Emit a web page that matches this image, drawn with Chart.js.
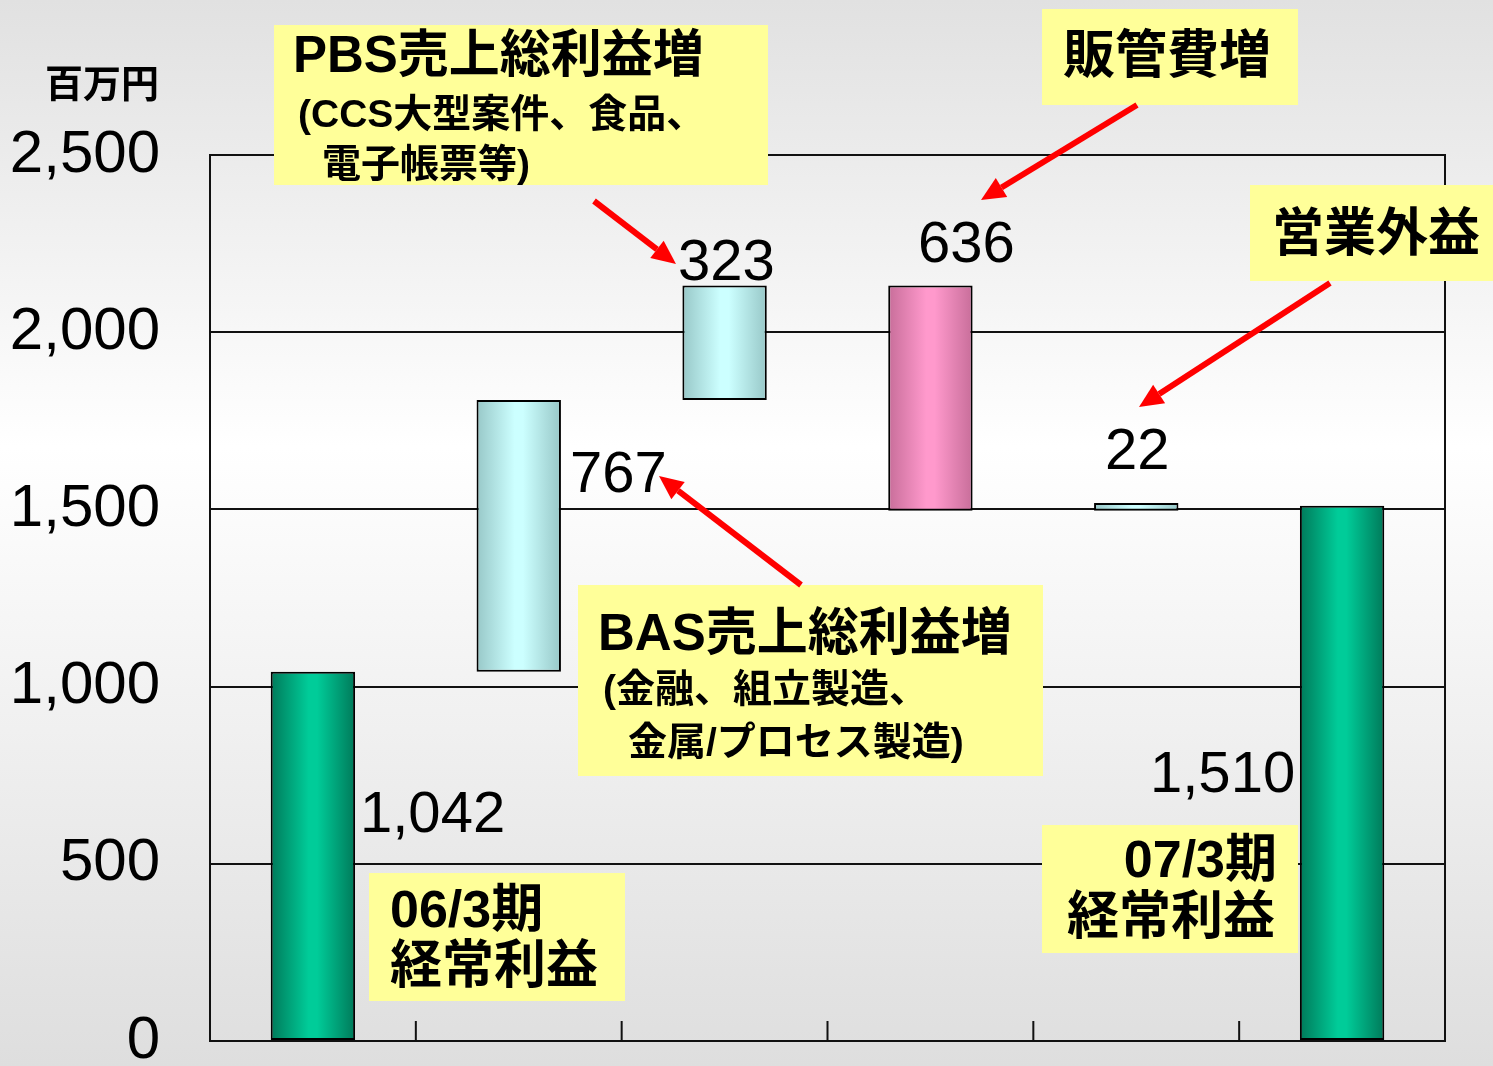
<!DOCTYPE html>
<html>
<head>
<meta charset="utf-8">
<script src="https://cdn.jsdelivr.net/npm/chart.js@4.4.1/dist/chart.umd.min.js"></script>
<style>
  html, body { margin: 0; padding: 0; background: #fff; }
  #wrap { width: 1493px; height: 1066px; }
</style>
</head>
<body>
<div id="wrap"><canvas id="c" width="1493" height="1066"></canvas></div>
<script>
// データ（百万円）
const categories = ['06/3期 経常利益', 'BAS売上総利益増', 'PBS売上総利益増', '販管費増', '営業外益', '07/3期 経常利益'];
const startValue = 1042;
const deltas = [767, 323, -636, 22];
const endValue = 1510;
const yTicks = [0, 500, 1000, 1500, 2000, 2500];

// 浮動バー [下端, 上端]
const bars = [[0, startValue]];
let run = startValue;
deltas.forEach(d => {
  const next = run + d;
  bars.push([Math.min(run, next), Math.max(run, next)]);
  run = next;
});
bars.push([0, endValue]);

const valueLabels = [startValue].concat(deltas.map(Math.abs), [endValue]).map(v => v.toLocaleString('en-US'));

// 色（端, 中央）
const palette = ['green', 'cyan', 'cyan', 'pink', 'cyan', 'green'];
const colors = {
  green: ['#007a5a', '#00cc99'],
  cyan:  ['#98c8c8', '#ccffff'],
  pink:  ['#c86e9a', '#ff99cc']
};

const JP = '"Liberation Sans", "Noto Sans CJK JP", sans-serif';

function barFill(ctx) {
  const chart = ctx.chart;
  const c = colors[palette[ctx.dataIndex]];
  if (!chart.chartArea || !chart.scales.x) return c[1];
  const x = chart.scales.x.getPixelForValue(ctx.dataIndex);
  const g = chart.ctx.createLinearGradient(x - 42, 0, x + 42, 0);
  g.addColorStop(0, c[0]);
  g.addColorStop(0.45, c[1]);
  g.addColorStop(0.55, c[1]);
  g.addColorStop(1, c[0]);
  return g;
}

// 注記（テキストボックス・矢印・数値）
const boxes = [
  { x: 274, y: 25, w: 494, h: 160, lines: [
    { t: 'PBS売上総利益増', x: 293, y: 58, size: 51 },
    { t: '(CCS大型案件、食品、', x: 298, y: 116, size: 39 },
    { t: '電子帳票等)', x: 322, y: 166, size: 39 } ] },
  { x: 1042, y: 9, w: 256, h: 96, lines: [
    { t: '販管費増', x: 1063, y: 59, size: 52 } ] },
  { x: 1250, y: 185, w: 243, h: 96, lines: [
    { t: '営業外益', x: 1272, y: 237, size: 52 } ] },
  { x: 578, y: 585, w: 465, h: 191, lines: [
    { t: 'BAS売上総利益増', x: 598, y: 636, size: 51 },
    { t: '(金融、組立製造、', x: 603, y: 691, size: 39 },
    { t: '金属/プロセス製造)', x: 628, y: 744, size: 39 } ] },
  { x: 369, y: 873, w: 256, h: 128, lines: [
    { t: '06/3期', x: 390, y: 913, size: 52 },
    { t: '経常利益', x: 390, y: 969, size: 52 } ] },
  { x: 1042, y: 825, w: 256, h: 128, lines: [
    { t: '07/3期', x: 1277, y: 863, size: 52, align: 'right' },
    { t: '経常利益', x: 1067, y: 920, size: 52 } ] }
];
const arrows = [
  [594, 201, 676, 264],
  [1137, 105, 981, 200],
  [1330, 283, 1139, 407],
  [801, 585, 659, 476]
];
const valuePos = [[360, 816], [570, 476], [678, 264], [918, 246], [1105, 453], [1150, 776]];

const decor = {
  id: 'decor',
  beforeDraw(chart) {
    const ctx = chart.ctx;
    const g = ctx.createLinearGradient(0, 0, 0, chart.height);
    g.addColorStop(0, '#e1e1e1');
    g.addColorStop(0.42, '#ffffff');
    g.addColorStop(1, '#dedede');
    ctx.save();
    ctx.fillStyle = g;
    ctx.fillRect(0, 0, chart.width, chart.height);
    ctx.restore();
  },
  afterDatasetsDraw(chart) {
    const ctx = chart.ctx;
    const a = chart.chartArea;
    const xs = chart.scales.x;
    ctx.save();
    ctx.strokeStyle = '#111';
    ctx.lineWidth = 2;
    ctx.beginPath();
    ctx.moveTo(a.left, a.top);
    ctx.lineTo(a.right, a.top);
    ctx.lineTo(a.right, a.bottom);
    for (let i = 0; i < categories.length - 1; i++) {
      const x = (xs.getPixelForValue(i) + xs.getPixelForValue(i + 1)) / 2;
      ctx.moveTo(x, a.bottom);
      ctx.lineTo(x, a.bottom - 20);
    }
    ctx.stroke();
    ctx.restore();
  },
  afterDraw(chart) {
    const ctx = chart.ctx;
    ctx.save();
    // 単位
    ctx.fillStyle = '#000';
    ctx.font = 'bold 38px ' + JP;
    ctx.textBaseline = 'middle';
    ctx.textAlign = 'left';
    ctx.fillText('百万円', 45, 87);

    // ボックス
    boxes.forEach(b => {
      ctx.fillStyle = '#ffff99';
      ctx.fillRect(b.x, b.y, b.w, b.h);
      ctx.fillStyle = '#000';
      b.lines.forEach(l => {
        ctx.font = 'bold ' + l.size + 'px ' + JP;
        ctx.textAlign = l.align || 'left';
        ctx.fillText(l.t, l.x, l.y);
      });
    });

    // 矢印
    ctx.strokeStyle = '#ff0000';
    ctx.fillStyle = '#ff0000';
    ctx.lineWidth = 6;
    arrows.forEach(([x1, y1, x2, y2]) => {
      const ang = Math.atan2(y2 - y1, x2 - x1);
      const hl = 24, hw = 11;
      const bx = x2 - hl * Math.cos(ang), by = y2 - hl * Math.sin(ang);
      ctx.beginPath();
      ctx.moveTo(x1, y1);
      ctx.lineTo(bx, by);
      ctx.stroke();
      ctx.beginPath();
      ctx.moveTo(x2, y2);
      ctx.lineTo(bx + hw * Math.sin(ang), by - hw * Math.cos(ang));
      ctx.lineTo(bx - hw * Math.sin(ang), by + hw * Math.cos(ang));
      ctx.closePath();
      ctx.fill();
    });

    // 数値
    ctx.fillStyle = '#000';
    ctx.font = '58px "Liberation Sans", Arial, sans-serif';
    ctx.textAlign = 'left';
    valueLabels.forEach((t, i) => {
      ctx.fillText(t, valuePos[i][0], valuePos[i][1]);
    });
    ctx.restore();
  }
};

new Chart(document.getElementById('c'), {
  type: 'bar',
  data: {
    labels: categories,
    datasets: [{
      data: bars,
      backgroundColor: barFill,
      borderColor: '#000',
      borderWidth: 2,
      borderSkipped: false,
      categoryPercentage: 1,
      barPercentage: 0.41
    }]
  },
  options: {
    responsive: false,
    animation: false,
    layout: { padding: { left: 0, top: 155, right: 48, bottom: 25 } },
    plugins: {
      legend: { display: false },
      tooltip: { enabled: false }
    },
    scales: {
      x: {
        ticks: { display: false },
        grid: { display: false },
        border: { display: true, color: '#111', width: 2 },
        afterFit: s => { s.height = 0; }
      },
      y: {
        min: 0,
        max: 2500,
        afterBuildTicks: s => { s.ticks = yTicks.map(v => ({ value: v })); },
        afterFit: s => { s.width = 210; s.paddingBottom = 0; },
        ticks: {
          color: '#000',
          padding: 50,
          font: { family: '"Liberation Sans", Arial, sans-serif', size: 60 },
          callback: v => v.toLocaleString('en-US')
        },
        grid: { color: '#111', lineWidth: 2, drawTicks: false },
        border: { display: true, color: '#111', width: 2 }
      }
    }
  },
  plugins: [decor]
});
</script>
</body>
</html>
